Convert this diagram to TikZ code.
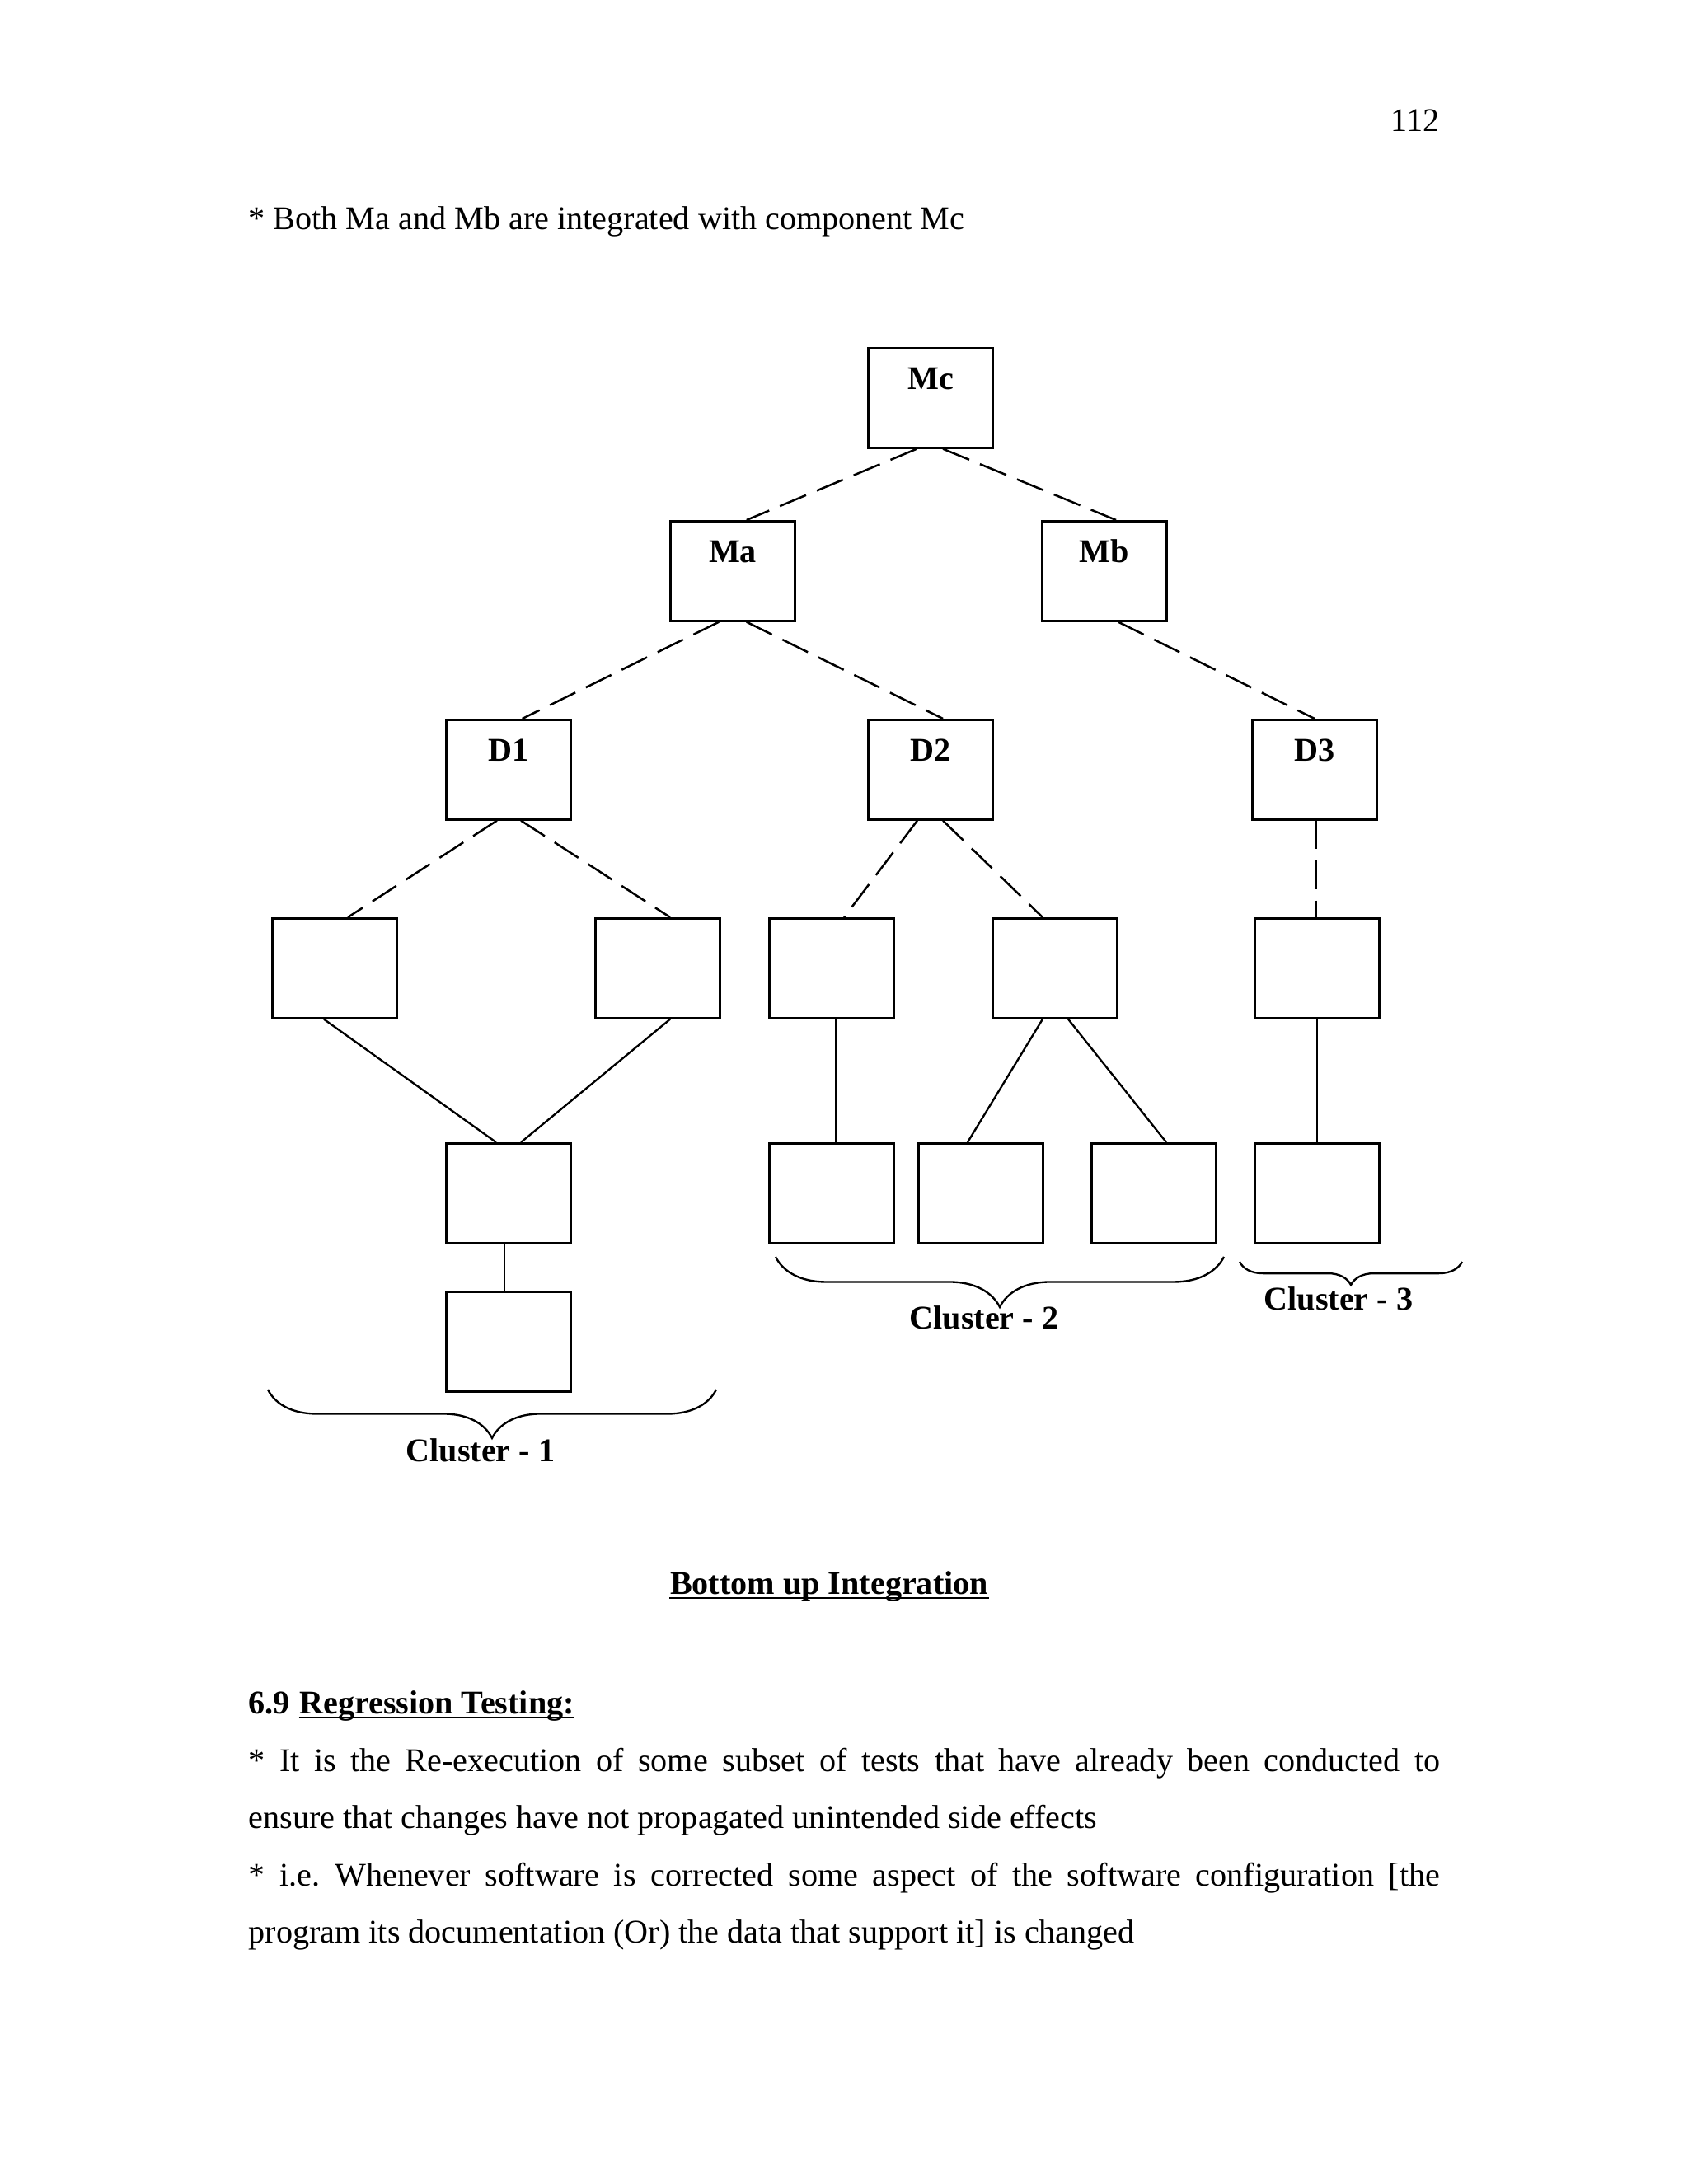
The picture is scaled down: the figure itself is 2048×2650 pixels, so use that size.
\documentclass[tikz,border=0pt]{standalone}
\usepackage{fontspec}
\setmainfont{Liberation Serif}
\usetikzlibrary{decorations.pathreplacing}
\begin{document}
\fontsize{12}{14.4}\selectfont
\frenchspacing
\begin{tikzpicture}[x=0.298828pt,y=-0.298828pt,
  box/.style={draw, line width=0.75pt, minimum width=45.1pt, minimum height=36.2pt, inner sep=0pt, anchor=north},
  mod/.style={box, label={[anchor=base, yshift=-15.5pt, inner sep=0pt, font=\bfseries]north:#1}},
  dsh/.style={line width=0.75pt, dash pattern=on 10.3pt off 4.2pt},
  sld/.style={line width=0.7pt},
  txt/.style={inner sep=0pt, anchor=base west},
  brc/.style={decorate, decoration={brace, mirror, amplitude=#1}, line width=0.7pt},
  cl/.style={inner sep=0pt, anchor=base, font=\bfseries}]
\useasboundingbox (0,0) rectangle (2048,2650);
\fill[white] (0,0) rectangle (2048,2650);

% top text
\node[inner sep=0pt, anchor=base east] (pg) at (1747,159) {112};
\node[txt] (t1) at (301,278) {* Both Ma and Mb are integrated with component Mc};

% module boxes
\node[mod=Mc] (Mc) at (1129,421) {};
\node[mod=Ma] (Ma) at (889,631) {};
\node[mod=Mb] (Mb) at (1340,631) {};
\node[mod=D1] (D1) at (617,872) {};
\node[mod=D2] (D2) at (1129,872) {};
\node[mod=D3] (D3) at (1595,872) {};
% row 3
\node[box] (A) at (406,1113) {};
\node[box] (B) at (798,1113) {};
\node[box] (C) at (1009,1113) {};
\node[box] (D) at (1280,1113) {};
\node[box] (E) at (1598,1113) {};
% row 4
\node[box] (F) at (617,1386) {};
\node[box] (G) at (1009,1386) {};
\node[box] (H) at (1190,1386) {};
\node[box] (I) at (1400,1386) {};
\node[box] (J) at (1598,1386) {};
% row 5
\node[box] (K) at (617,1566) {};

% dashed connectors
\draw[dsh] ([xshift=-5pt]Mc.south) -- ([xshift=5pt]Ma.north);
\draw[dsh] ([xshift=4.5pt]Mc.south) -- ([xshift=4.2pt]Mb.north);
\draw[dsh] ([xshift=-5pt]Ma.south) -- ([xshift=5pt]D1.north);
\draw[dsh] ([xshift=5pt]Ma.south) -- ([xshift=4.5pt]D2.north);
\draw[dsh] ([xshift=5pt]Mb.south) -- (D3.north);
\draw[dsh] ([xshift=0.6pt]D3.south) -- ([xshift=0.6pt]D3.south |- E.north);
\draw[dsh] ([xshift=-4.2pt]D1.south) -- ([xshift=4.8pt]A.north);
\draw[dsh] ([xshift=4.5pt]D1.south) -- ([xshift=4.5pt]B.north);
\draw[dsh] ([xshift=-4.8pt]D2.south) -- ([xshift=4.5pt]C.north);
\draw[dsh] ([xshift=4.5pt]D2.south) -- ([xshift=-4.5pt]D.north);

% solid connectors
\draw[sld] ([xshift=-3.9pt]A.south) -- ([xshift=-4.5pt]F.north);
\draw[sld] ([xshift=4.5pt]B.south) -- ([xshift=4.5pt]F.north);
\draw[sld] ([xshift=-1.5pt]F.south) -- ([xshift=-1.5pt]K.north);
\draw[sld] ([xshift=1.5pt]C.south) -- ([xshift=1.5pt]G.north);
\draw[sld] ([xshift=-4.5pt]D.south) -- ([xshift=-4.8pt]H.north);
\draw[sld] ([xshift=4.8pt]D.south) -- ([xshift=4.5pt]I.north);
\draw[sld] (E.south) -- (E.south |- J.north);

% braces
\coordinate (b1l) at (325,1686); \coordinate (b1r) at (869,1686);
\coordinate (b2l) at (941,1525); \coordinate (b2r) at (1485,1525);
\coordinate (b3l) at (1504,1531); \coordinate (b3r) at (1774,1531);
\draw[brc=17.6pt] (b1l) -- (b1r);
\draw[brc=18.2pt] (b2l) -- (b2r);
\draw[brc=8.4pt] (b3l) -- (b3r);
\node[cl] (c1) at (583,1773) {Cluster - 1};
\node[cl] (c2) at (1194,1612) {Cluster - 2};
\node[cl] (c3) at (1624,1589) {Cluster - 3};

% caption
\node[inner sep=0pt, anchor=base, font=\bfseries] (title) at (1006,1934) {Bottom up Integration};
\draw[line width=0.6pt] ([yshift=-1.6pt]title.base west) -- ([yshift=-1.6pt]title.base east);

% section
\node[txt, font=\bfseries] (sec) at (301,2079) {6.9};
\node[txt, font=\bfseries] (sect) at ([xshift=3pt]sec.base east) {Regression Testing:};
\draw[line width=0.6pt] ([yshift=-1.6pt]sect.base west) -- ([yshift=-1.6pt]sect.base east);

\node[txt] (p1) at (301,2149) {\makebox[432pt][s]{* It is the Re-execution of some subset of tests that have already been conducted to}};
\node[txt] (p2) at (301,2218) {ensure that changes have not propagated unintended side effects};
\node[txt] (p3) at (301,2288) {\makebox[432pt][s]{* i.e. Whenever software is corrected some aspect of the software configuration [the}};
\node[txt] (p4) at (301,2357) {program its documentation (Or) the data that support it] is changed};
\end{tikzpicture}
\end{document}
